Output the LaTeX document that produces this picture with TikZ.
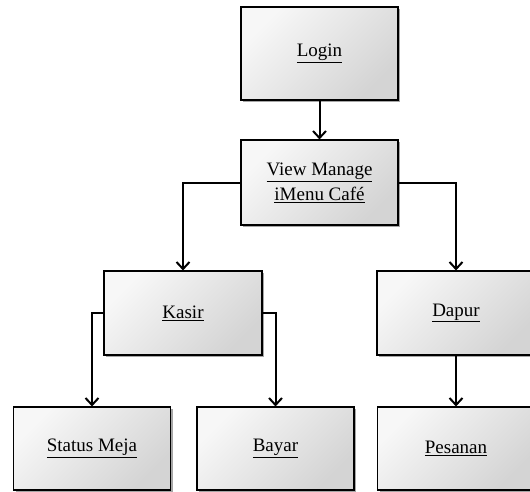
\documentclass[tikz,border=0pt]{standalone}
\usepackage{fontspec}
\setmainfont{Liberation Serif}
\usetikzlibrary{arrows.meta,shadows}

\tikzset{
  menubox/.style={
    draw=black, line width=1.1pt,
    shading=axis, top color=gray!6, bottom color=gray!34, shading angle=45,
    drop shadow={shadow xshift=2pt, shadow yshift=-2pt, opacity=0.35, fill=black},
    minimum width=157pt, minimum height=85pt,
    align=center, font=\fontsize{19pt}{25pt}\selectfont, inner sep=2pt
  },
  link/.style={draw=black, line width=2pt,
    -{Straight Barb[length=7pt,width=13pt,line width=2pt]}}
}

\begin{document}
\begin{tikzpicture}[x=1pt,y=-1pt]
  \useasboundingbox (0,0) rectangle (530,491);

  % top level
  \node[menubox, minimum height=93pt] (login) at (319.5,53.5) {\underline{Login}};
  \node[menubox] (view) at (319.5,182.5) {\underline{View Manage}\\\underline{iMenu Café}};

  % second level
  \node[menubox, minimum width=158pt, minimum height=84pt] (kasir) at (183,313) {\underline{Kasir}};
  \node[menubox, minimum width=158pt, minimum height=84pt] (dapur) at (456,313) {\underline{Dapur}};

  % leaves
  \node[menubox, minimum height=83pt] (meja) at (92,448.5) {\underline{Status Meja}};
  \node[menubox, minimum height=83pt] (bayar) at (275.5,448.5) {\underline{Bayar}};
  \node[menubox, minimum height=83pt] (pesanan) at (456,448.5) {\underline{Pesanan}};

  % connectors
  \draw[link] (login) -- (view);
  \draw[link] (view.west) -| (kasir.north);
  \draw[link] (view.east) -| (dapur.north);
  \draw[link] (kasir.west) -| (meja.north);
  \draw[link] (kasir.east) -| (bayar.north);
  \draw[link] (dapur) -- (pesanan);
\end{tikzpicture}
\end{document}
